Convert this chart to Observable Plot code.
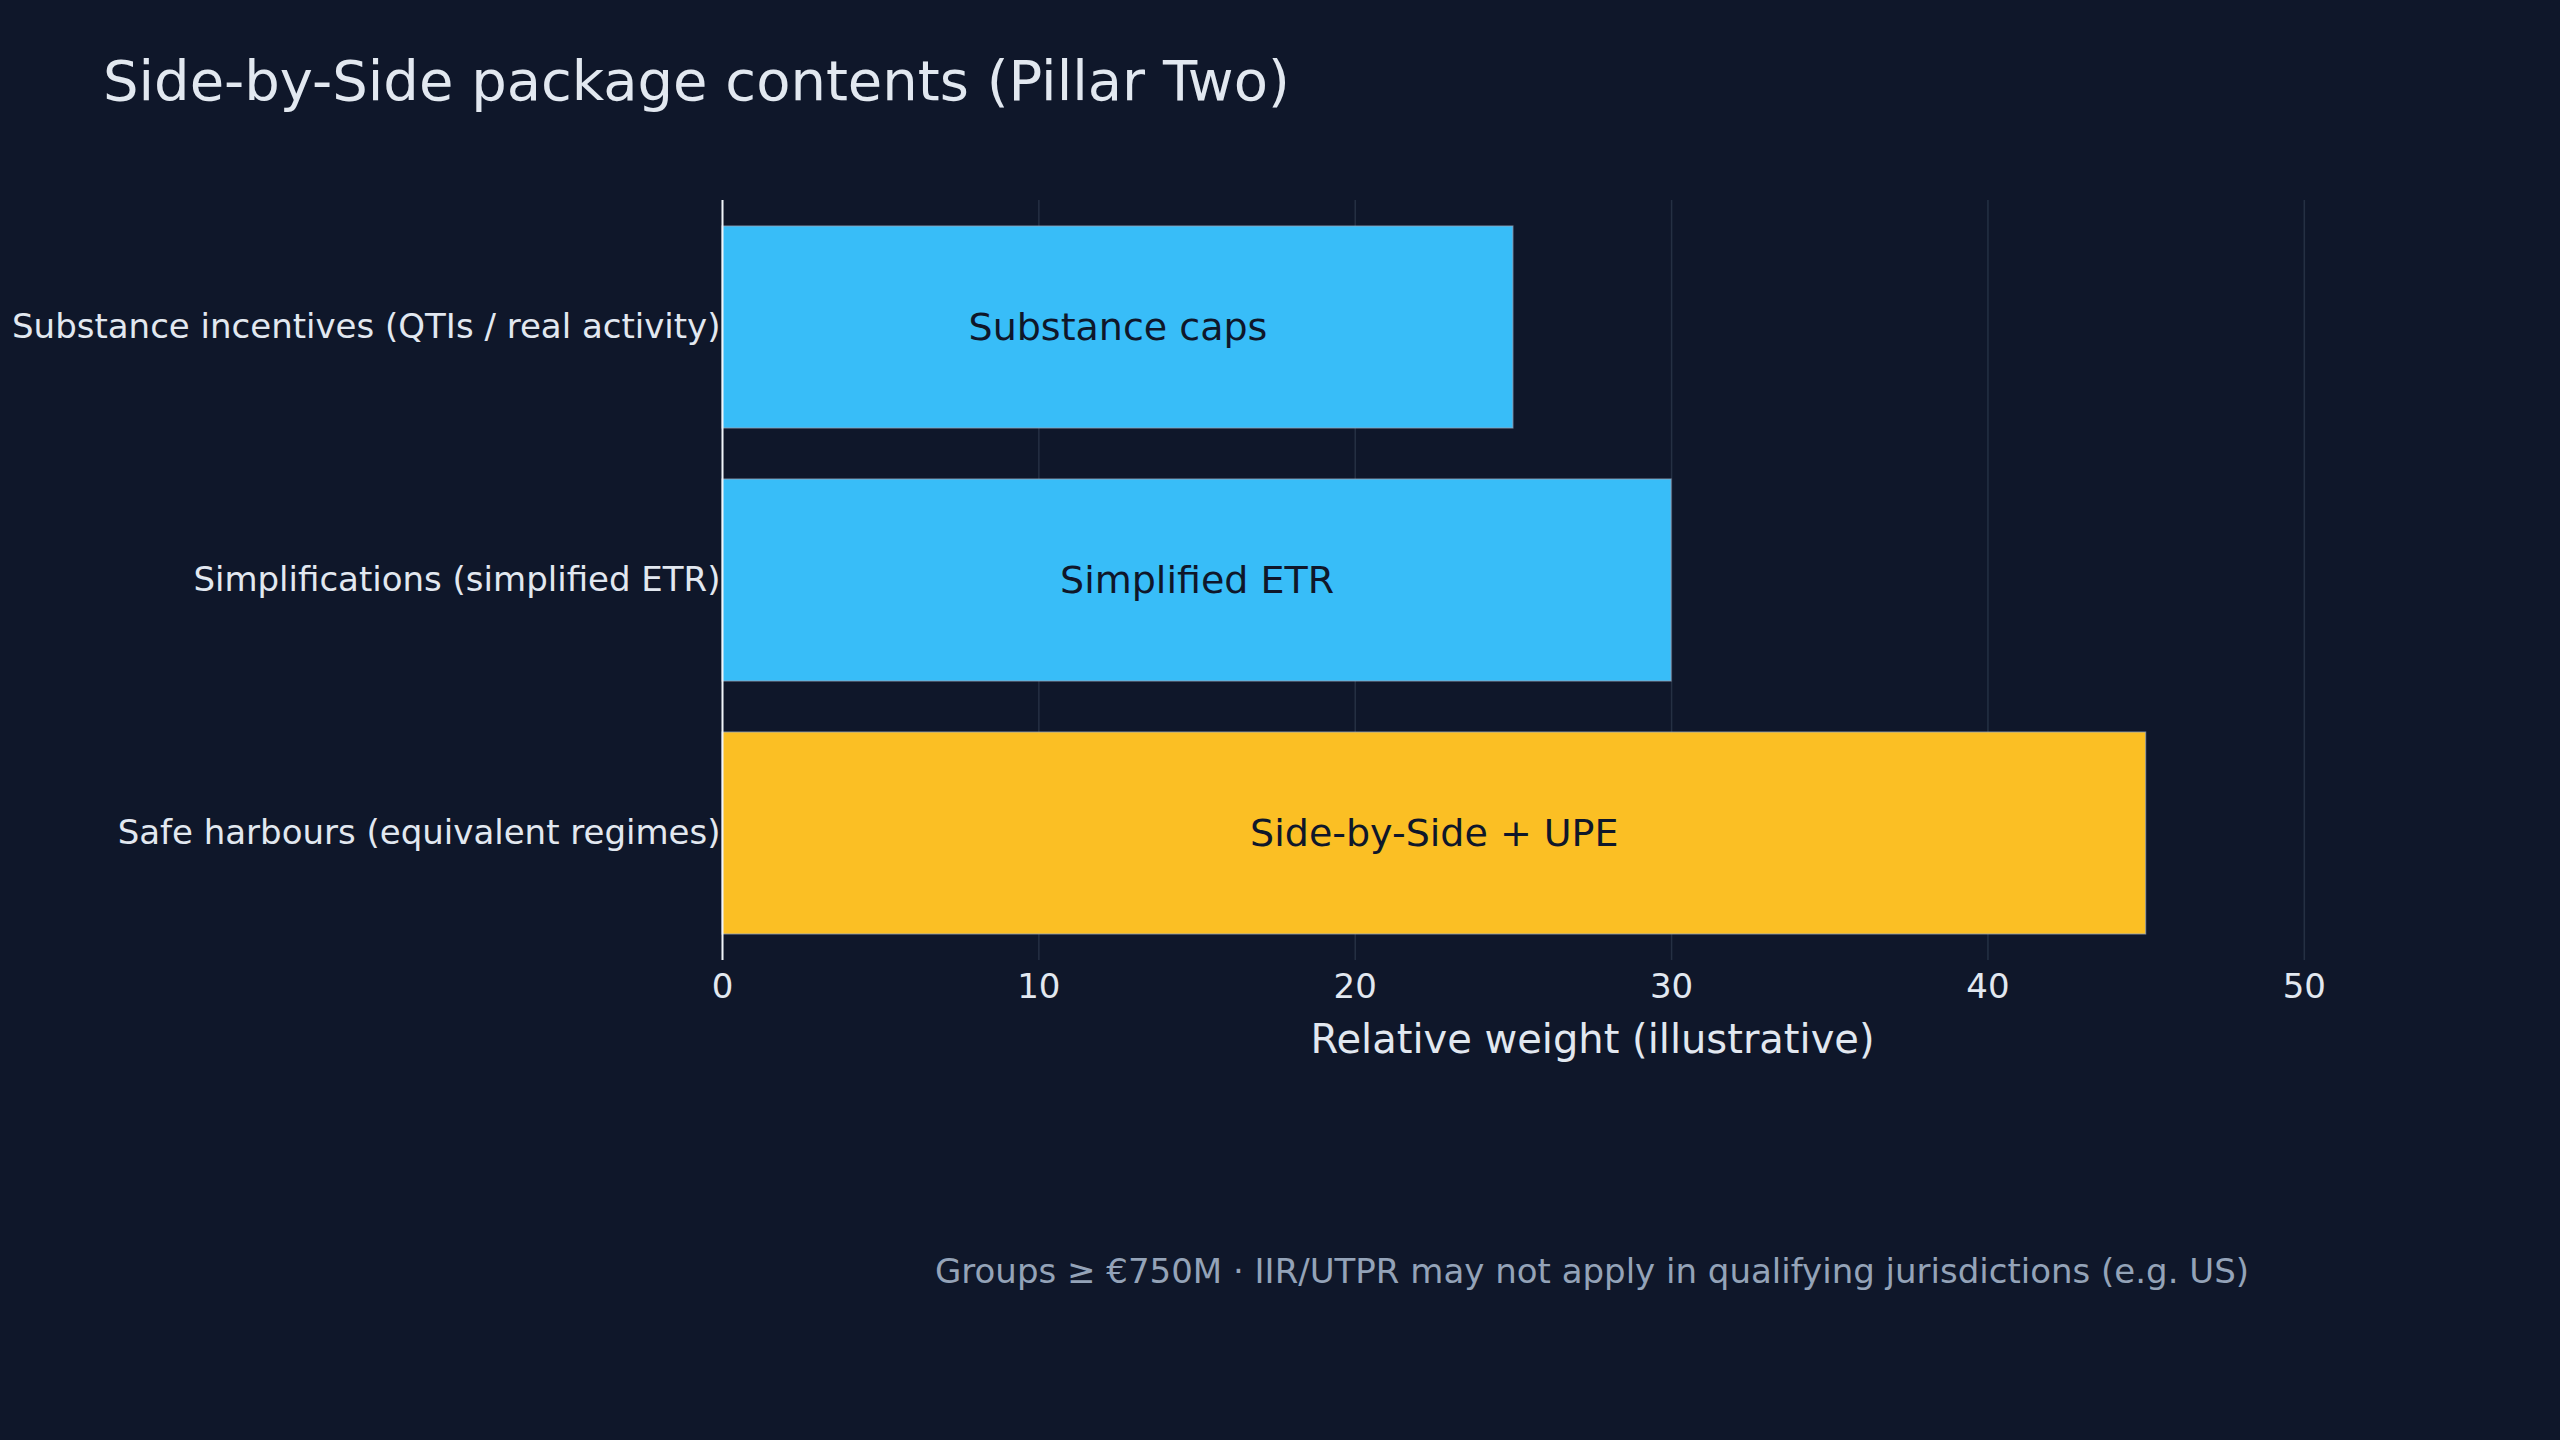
<!DOCTYPE html>
<html>
<head>
<meta charset="utf-8">
<script src="https://cdn.jsdelivr.net/npm/d3@7"></script>
<script src="https://cdn.jsdelivr.net/npm/@observablehq/plot@0.6"></script>
<style>
  html, body { margin: 0; padding: 0; background: #0f172a; }
  body { width: 2560px; height: 1440px; overflow: hidden; font-family: "DejaVu Sans", sans-serif; }
  #title { height: 160px; box-sizing: border-box; padding-top: 53px; padding-left: 103px;
           font-size: 56px; line-height: 56px; color: #e2e8f0; white-space: nowrap; }
  #chart svg { display: block; }
  #caption { margin-top: 154px; margin-left: 722px; width: 1740px; text-align: center;
             font-size: 34px; line-height: 34px; color: #94a3b8; white-space: nowrap; }
</style>
</head>
<body>
<div id="title">Side-by-Side package contents (Pillar Two)</div>
<div id="chart"></div>
<div id="caption">Groups ≥ €750M · IIR/UTPR may not apply in qualifying jurisdictions (e.g. US)</div>
<script>
const categories = [
  "Substance incentives (QTIs / real activity)",
  "Simplifications (simplified ETR)",
  "Safe harbours (equivalent regimes)"
];
const values = [25, 30, 45];
const barLabels = ["Substance caps", "Simplified ETR", "Side-by-Side + UPE"];
const barColors = ["#38bdf8", "#38bdf8", "#fbbf24"];
const xTicks = [0, 10, 20, 30, 40, 50];
const xLabel = "Relative weight (illustrative)";

const data = categories.map((c, i) => ({category: c, value: values[i], label: barLabels[i], color: barColors[i]}));

const chart = Plot.plot({
  width: 2560,
  height: 940,
  marginTop: 40,
  marginBottom: 140,
  marginLeft: 722,
  marginRight: 98,
  style: {background: "#0f172a", color: "#e2e8f0", fontFamily: "DejaVu Sans, sans-serif"},
  x: {domain: [0, 55], ticks: xTicks},
  y: {domain: categories, paddingInner: 0.2, paddingOuter: 0.1},
  marks: [
    Plot.gridX(xTicks, {stroke: "#334155", strokeOpacity: 0.6, strokeWidth: 1.5}),
    Plot.barX(data, {y: "category", x: "value", fill: "color", stroke: "#94a3b8", strokeOpacity: 0.7, strokeWidth: 1.2}),
    Plot.text(data, {y: "category", x: d => d.value / 2, text: "label", fill: "#0f172a", fontSize: 38}),
    Plot.ruleX([0], {stroke: "#f1f5f9", strokeWidth: 2}),
    Plot.axisX(xTicks, {tickSize: 0, tickPadding: 13, fontSize: 34, label: null, fill: "#e2e8f0"}),
    Plot.axisY({tickSize: 0, tickPadding: 2, fontSize: 34, label: null, fill: "#e2e8f0"}),
    Plot.text([xLabel], {frameAnchor: "bottom", lineAnchor: "top", dy: 64, text: d => d, fontSize: 40, fill: "#e2e8f0"})
  ]
});
document.getElementById("chart").appendChild(chart);
</script>
</body>
</html>
